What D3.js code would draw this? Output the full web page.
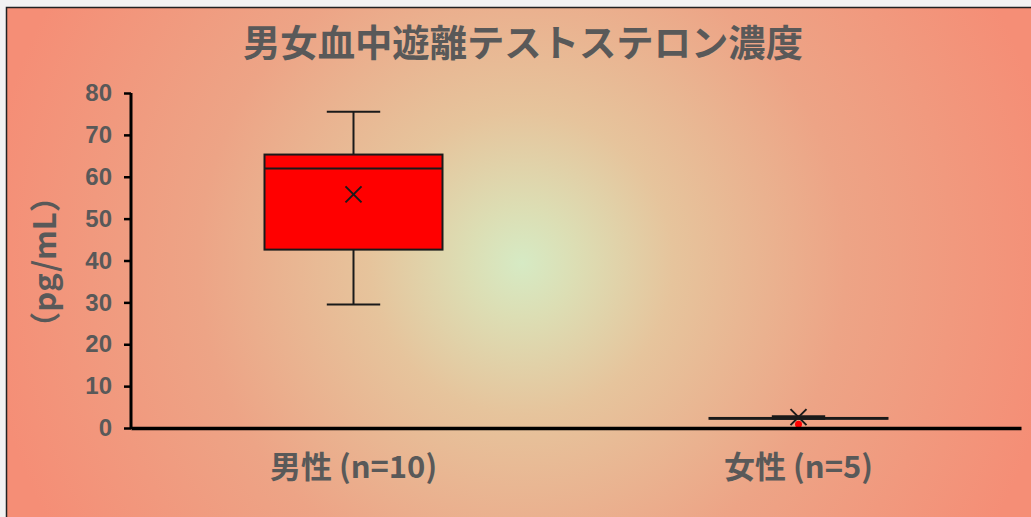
<!DOCTYPE html>
<html>
<head>
<meta charset="utf-8" />
<script src="https://d3js.org/d3.v7.min.js"></script>
<style>
  body { margin: 0; background: #f2f2f2; }
  svg { display: block; }
  .tick text { font-family: "Liberation Sans", Arial, sans-serif; font-weight: bold; fill: #595959; }
</style>
</head>
<body>
<svg id="chart" width="1031" height="517"></svg>
<script>
// data
var groups = ["男性 (n=10)", "女性 (n=5)"];
var whiskerLow = [29.5, 2.2];
var q1 = [42.6, 2.2];
var median = [62.0, 2.3];
var q3 = [65.3, 2.4];
var whiskerHigh = [75.5, 2.8];
var means = [55.8, 2.6];
var outliers = [[], [0.9]];
var yTicks = [0, 10, 20, 30, 40, 50, 60, 70, 80];

var svg = d3.select("#chart"),
    margin = {top: 93, left: 131, bottom: 89, right: 10},
    width = 1031 - margin.left - margin.right,
    height = 517 - margin.top - margin.bottom;

// background panel with radial gradient
var defs = svg.append("defs");
var grad = defs.append("radialGradient")
    .attr("id", "bg")
    .attr("gradientUnits", "userSpaceOnUse")
    .attr("cx", 522).attr("cy", 263).attr("r", 540);
[[0, "#d6eac4"], [0.1, "#dcdeb4"], [0.28, "#e6c49c"], [0.6, "#eda486"], [1, "#f58e76"]]
  .forEach(function(s) { grad.append("stop").attr("offset", s[0]).attr("stop-color", s[1]); });

svg.append("rect")
    .attr("x", 6.5).attr("y", 7.5)
    .attr("width", 1040).attr("height", 530)
    .attr("fill", "url(#bg)")
    .attr("stroke", "#222").attr("stroke-width", 1.5);

// title
svg.append("text")
    .attr("x", 243).attr("y", 57)
    .attr("textLength", 560)
    .attr("lengthAdjust", "spacingAndGlyphs")
    .style("font-family", "'Noto Sans CJK JP'")
    .style("font-weight", "bold")
    .style("font-size", "37px")
    .style("fill", "#595959")
    .text("男女血中遊離テストステロン濃度");

var g = svg.append("g")
    .attr("transform", "translate(" + margin.left + "," + margin.top + ")");

var x = d3.scaleBand().domain(groups).range([0, width]);
var y = d3.scaleLinear().domain([0, 80]).range([height, 0]);

// y axis
var yAxis = g.append("g")
    .call(d3.axisLeft(y).tickValues(yTicks).tickSize(7).tickPadding(12));
yAxis.select(".domain").attr("stroke", "#000").attr("stroke-width", 3).attr("d", "M0," + (height + 1) + "V0");
yAxis.selectAll(".tick line").attr("stroke", "#000").attr("stroke-width", 2.5);
yAxis.selectAll(".tick text").style("font-size", "24px");

// y label
svg.append("text")
    .attr("transform", "translate(56,262) rotate(-90)")
    .attr("text-anchor", "middle")
    .style("font-family", "'Noto Sans CJK JP'")
    .style("font-weight", "bold")
    .style("font-size", "31px")
    .style("fill", "#595959")
    .text("（pg/mL）");

// boxes
var boxW = x.bandwidth() * 0.4,
    capW = boxW * 0.15;

groups.forEach(function(gname, i) {
  var cx = x(gname) + x.bandwidth() / 2;
  var box = g.append("g");
  // whiskers
  box.append("line")
      .attr("x1", cx).attr("x2", cx)
      .attr("y1", y(whiskerHigh[i])).attr("y2", y(q3[i]))
      .attr("stroke", "#1a1a1a").attr("stroke-width", 2);
  box.append("line")
      .attr("x1", cx).attr("x2", cx)
      .attr("y1", y(q1[i])).attr("y2", y(whiskerLow[i]))
      .attr("stroke", "#1a1a1a").attr("stroke-width", 2);
  [whiskerHigh[i], whiskerLow[i]].forEach(function(v) {
    box.append("line")
        .attr("x1", cx - capW).attr("x2", cx + capW)
        .attr("y1", y(v)).attr("y2", y(v))
        .attr("stroke", "#1a1a1a").attr("stroke-width", 2);
  });
  box.append("rect")
      .attr("x", cx - boxW / 2).attr("width", boxW)
      .attr("y", y(q3[i])).attr("height", y(q1[i]) - y(q3[i]))
      .attr("fill", "#ff0000").attr("stroke", "#1a1a1a").attr("stroke-width", 2);
  box.append("line")
      .attr("x1", cx - boxW / 2).attr("x2", cx + boxW / 2)
      .attr("y1", y(median[i])).attr("y2", y(median[i]))
      .attr("stroke", "#1a1a1a").attr("stroke-width", 2);
  // mean marker
  var my = y(means[i]), s = 8;
  box.append("path")
      .attr("d", "M" + (cx - s) + "," + (my - s) + "L" + (cx + s) + "," + (my + s) +
                 "M" + (cx - s) + "," + (my + s) + "L" + (cx + s) + "," + (my - s))
      .attr("stroke", "#1a1a1a").attr("stroke-width", 2).attr("fill", "none");
  outliers[i].forEach(function(v) {
    box.append("circle")
        .attr("cx", cx).attr("cy", y(v)).attr("r", 3.5)
        .attr("fill", "#ff0000");
  });
});

// x axis
var xAxis = g.append("g")
    .attr("transform", "translate(0," + height + ")")
    .call(d3.axisBottom(x).tickSize(0).tickPadding(28));
xAxis.select(".domain").attr("stroke", "#000").attr("stroke-width", 3.5);
xAxis.selectAll(".tick text")
    .style("font-family", "'Noto Sans CJK JP'")
    .style("font-size", "31px");
</script>
</body>
</html>
